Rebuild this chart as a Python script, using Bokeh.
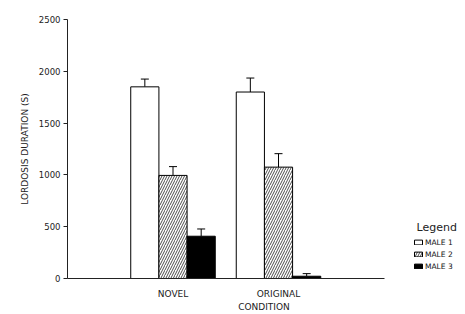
from bokeh.plotting import figure
from bokeh.models import Range1d, ColumnDataSource, Whisker, TeeHead, Legend, LegendItem, FixedTicker
from bokeh.embed import file_html
from bokeh.resources import INLINE

conditions = ["NOVEL", "ORIGINAL"]
cond_pos = [1, 2]
series = ["MALE 1", "MALE 2", "MALE 3"]
male1 = [1850, 1800]
male1_err = [75, 135]
male2 = [995, 1075]
male2_err = [85, 130]
male3 = [408, 22]
male3_err = [70, 25]
y_ticks = [0, 500, 1000, 1500, 2000, 2500]

FONT = "DejaVu Sans"
p = figure(width=465, height=314, output_backend="svg", toolbar_location=None,
           x_range=Range1d(0, 3.725), y_range=Range1d(0, 2500),
           min_border_left=67, min_border_right=5, min_border_top=19, min_border_bottom=36)
p.outline_line_color = None
p.xgrid.visible = False
p.ygrid.visible = False
p.background_fill_color = "white"

offsets = [-0.267, 0.0, 0.267]
vals = [male1, male2, male3]
errs = [male1_err, male2_err, male3_err]
renderers = []
for i, (v, e) in enumerate(zip(vals, errs)):
    xs = [c + offsets[i] for c in cond_pos]
    src = ColumnDataSource(dict(x=xs, top=v, up=[a + b for a, b in zip(v, e)]))
    kw = dict(x="x", top="top", bottom=0, width=0.267, source=src,
              line_color="black", line_width=1)
    if i == 0:
        r = p.vbar(fill_color="white", **kw)
    elif i == 1:
        r = p.vbar(fill_color="white", hatch_pattern="/", hatch_color="black",
                   hatch_scale=5, hatch_weight=0.7, **kw)
    else:
        r = p.vbar(fill_color="black", **kw)
    renderers.append(r)
    w = Whisker(base="x", lower="top", upper="up", source=src, dimension="height",
                line_color="black", line_width=1, lower_head=None,
                upper_head=TeeHead(size=8, line_color="black", line_width=1))
    p.add_layout(w)

legend = Legend(items=[LegendItem(label=s, renderers=[r]) for s, r in zip(series, renderers)],
                location=(346, 7), title="\u00a0Legend", title_text_font=FONT,
                title_text_font_size="11px", title_text_font_style="normal",
                title_text_color="#222",
                label_text_font=FONT, label_text_font_size="7.5px", label_text_color="#111",
                glyph_width=10, glyph_height=6, label_height=10, spacing=2,
                padding=2, margin=0, background_fill_alpha=0, border_line_color=None,
                title_standoff=3, label_standoff=2)
p.add_layout(legend)

p.xaxis.bounds = (0, 3.0)
p.xaxis.ticker = FixedTicker(ticks=cond_pos)
p.xaxis.major_label_overrides = {1: conditions[0], 2: conditions[1]}
p.xaxis.minor_tick_line_color = None
p.xaxis.major_tick_out = 0
p.xaxis.major_tick_in = 0
p.xaxis.axis_label = "CONDITION"
p.xaxis.major_label_standoff = 10
p.xaxis.axis_label_standoff = 0

p.yaxis.ticker = FixedTicker(ticks=y_ticks)
p.yaxis.minor_tick_line_color = None
p.yaxis.major_tick_out = 4
p.yaxis.major_tick_in = 0
p.yaxis.axis_label = "LORDOSIS DURATION (S)"
p.yaxis.major_label_standoff = 3
p.yaxis.axis_label_standoff = 6

for ax in (p.xaxis[0], p.yaxis[0]):
    ax.axis_line_color = "#222"
    ax.axis_line_width = 1
    ax.major_tick_line_color = "#222" if ax is p.yaxis[0] else None
    ax.major_label_text_font = FONT
    ax.major_label_text_color = "#222"
    ax.axis_label_text_font = FONT
    ax.axis_label_text_font_style = "normal"
    ax.axis_label_text_color = "#222"
p.xaxis.major_label_text_font_size = "9px"
p.xaxis.axis_label_text_font_size = "9px"
p.yaxis.major_label_text_font_size = "8.5px"
p.yaxis.axis_label_text_font_size = "9px"

open("out.html", "w").write(file_html(p, INLINE))
